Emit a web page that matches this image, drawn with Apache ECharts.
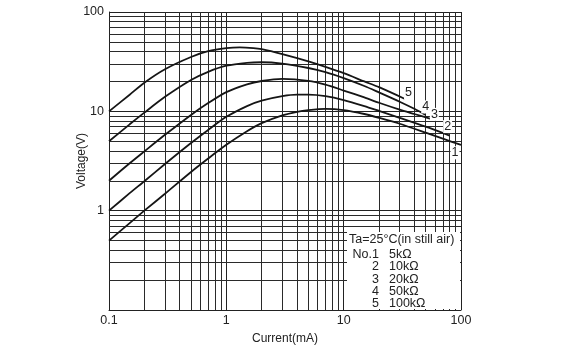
<!DOCTYPE html>
<html>
<head>
<meta charset="utf-8">
<script src="https://cdn.jsdelivr.net/npm/echarts@6/dist/echarts.min.js"></script>
<style>
html,body{margin:0;padding:0;background:#fff;}
#chart{width:577px;height:350px;}
</style>
</head>
<body>
<div id="chart"></div>
<script>
// ---- Data ----
const curveNames = ['1', '2', '3', '4', '5'];

const current1 = [0.1,0.15,0.2,0.3,0.5,0.7,1,1.5,2,3,4,5,7,10,15,20,30,50,70,100];
const voltage1 = [0.5,0.75,1,1.48,2.45,3.35,4.6,6.3,7.6,9.1,9.9,10.3,10.6,10.3,9.4,8.6,7.5,6.1,5.3,4.6];

const current2 = [0.1,0.15,0.2,0.3,0.5,0.7,1,1.5,2,3,4,5,7,10,15,20,30,50,80];
const voltage2 = [1,1.5,1.98,2.95,4.8,6.5,8.8,11.3,12.8,14.2,14.7,14.7,14.2,13,11.3,10.1,8.6,7,5.7];

const current3 = [0.1,0.15,0.2,0.3,0.5,0.7,1,1.5,2,3,5,7,10,15,20,30,40,57];
const voltage3 = [2,3,3.95,5.8,9.2,12.1,15.6,18.7,20.2,21.2,20.3,18.6,16.2,13.8,12.2,10.4,9.4,8.3];

const current4 = [0.1,0.15,0.2,0.3,0.5,0.7,1,1.5,2,3,5,7,10,15,20,30,40,50];
const voltage4 = [5,7.4,9.7,14,20.7,25,28.8,30.8,31.2,30.2,27.3,24.8,21.6,18,15.5,12.5,10.6,9.2];

const current5 = [0.1,0.15,0.2,0.3,0.5,0.7,1,1.3,1.7,2,3,5,7,10,15,20,33];
const voltage5 = [10,14.7,19.4,26.5,35.2,40.3,43.2,44,43.3,42.2,37.6,31.8,28,24.2,20,17.5,13.4];

const xMinorLines = [0.2,0.3,0.4,0.5,0.6,0.7,0.8,0.9,2,3,4,5,6,7,8,9,20,30,40,50,60,70,80,90];
const yMinorLines = [0.2,0.3,0.4,0.5,0.6,0.7,0.8,0.9,2,3,4,5,6,7,8,9,20,30,40,50,60,70,80,90];

const xTickLabels = ['0.1', '1', '10', '100'];
const yTickLabels = ['1', '10', '100'];

const legendTitle = 'Ta=25°C(in still air)';
const legendNos = ['No.1', '2', '3', '4', '5'];
const legendRes = ['5kΩ', '10kΩ', '20kΩ', '50kΩ', '100kΩ'];

// ---- Build ----
const FONT = '"Liberation Sans", Arial, Helvetica, sans-serif';
const currents = [current1, current2, current3, current4, current5];
const voltages = [voltage1, voltage2, voltage3, voltage4, voltage5];
const labelOffsets = [[-6, 8], [-2, -9], [2, -5], [0, -8], [4, -6]];

function fmt(v) {
  const r = Math.round(v * 1000) / 1000;
  return String(r);
}

const series = curveNames.map((name, i) => ({
  type: 'line',
  name: name,
  data: currents[i].map((c, j) => [c, voltages[i][j]]),
  showSymbol: false,
  smooth: 0.25,
  lineStyle: { color: '#151515', width: 1.8 },
  z: 5,
  endLabel: {
    show: true,
    formatter: name,
    distance: 0,
    align: 'center',
    verticalAlign: 'middle',
    offset: labelOffsets[i],
    color: '#222',
    fontSize: 12.5,
    fontFamily: FONT,
    backgroundColor: '#fff',
    padding: [0, 1]
  }
}));

series.push({
  type: 'line',
  data: [],
  markLine: {
    silent: true,
    animation: false,
    symbol: 'none',
    label: { show: false },
    lineStyle: { color: '#2a2a2a', width: 1, type: 'solid' },
    data: xMinorLines.map(v => ({ xAxis: v })).concat(yMinorLines.map(v => ({ yAxis: v })))
  },
  z: 1
});

const graphics = [
  {
    type: 'rect',
    shape: { x: 347, y: 232, width: 113, height: 77 },
    style: { fill: '#fff' },
    z: 50
  },
  {
    type: 'text',
    x: 349, y: 240,
    style: { text: legendTitle, font: '12.5px ' + FONT, fill: '#222', textVerticalAlign: 'middle', textAlign: 'left' },
    z: 60
  }
];
const rowY = [255, 267, 279.3, 291.5, 303.3];
legendNos.forEach((t, i) => {
  graphics.push({
    type: 'text', x: 379, y: rowY[i],
    style: { text: t, font: '12.5px ' + FONT, fill: '#222', textVerticalAlign: 'middle', textAlign: 'right' },
    z: 60
  });
  graphics.push({
    type: 'text', x: 389, y: rowY[i],
    style: { text: legendRes[i], font: '12.5px ' + FONT, fill: '#222', textVerticalAlign: 'middle', textAlign: 'left' },
    z: 60
  });
});

const chart = echarts.init(document.getElementById('chart'), null, { renderer: 'canvas' });
chart.setOption({
  animation: false,
  backgroundColor: '#fff',
  grid: { left: 109, right: 116, top: 12, bottom: 37, containLabel: false },
  xAxis: {
    type: 'log',
    logBase: 10,
    min: 0.1,
    max: 100,
    name: 'Current(mA)',
    nameLocation: 'middle',
    nameGap: 23,
    nameMoveOverlap: false,
    nameTextStyle: { color: '#222', fontSize: 12, fontFamily: FONT },
    axisLine: { show: true, lineStyle: { color: '#222', width: 1 } },
    axisTick: { show: false },
    axisLabel: {
      color: '#222', fontSize: 12.5, fontFamily: FONT, margin: 4,
      formatter: v => { const s = fmt(v); return xTickLabels.indexOf(s) >= 0 ? s : ''; }
    },
    splitLine: { show: true, lineStyle: { color: '#222', width: 1 } }
  },
  yAxis: {
    type: 'log',
    logBase: 10,
    min: 0.1,
    max: 100,
    name: 'Voltage(V)',
    nameLocation: 'middle',
    nameGap: 21,
    nameMoveOverlap: false,
    nameRotate: 90,
    nameTextStyle: { color: '#222', fontSize: 12, fontFamily: FONT },
    axisLine: { show: true, lineStyle: { color: '#222', width: 1 } },
    axisTick: { show: false },
    axisLabel: {
      color: '#222', fontSize: 12.5, fontFamily: FONT, margin: 5,
      formatter: v => { const s = fmt(v); return yTickLabels.indexOf(s) >= 0 ? s : ''; }
    },
    splitLine: { show: true, lineStyle: { color: '#222', width: 1 } }
  },
  graphic: graphics,
  series: series
});
</script>
</body>
</html>
